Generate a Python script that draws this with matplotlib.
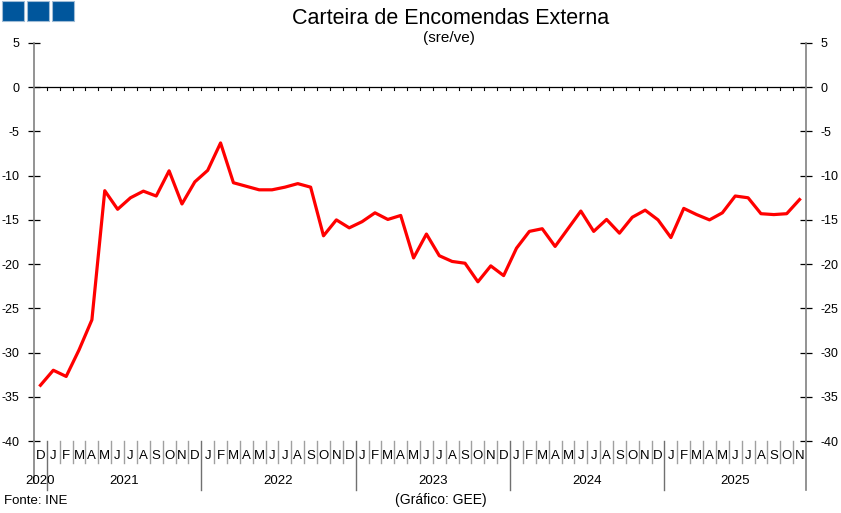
import matplotlib.pyplot as plt
from matplotlib.patches import Rectangle

plt.rcParams['font.family'] = ['Liberation Sans', 'DejaVu Sans']
plt.rcParams['axes.unicode_minus'] = False

# Dec 2020 .. Nov 2025, balance of respondents (sre/ve)
values = [-33.7, -32.0, -32.7, -29.7, -26.3, -11.7, -13.8, -12.5, -11.75, -12.3,
          -9.45, -13.2, -10.7, -9.4, -6.3, -10.8, -11.2, -11.6, -11.6, -11.3,
          -10.9, -11.3, -16.8, -15.0, -15.9, -15.2, -14.2, -14.95, -14.5, -19.3,
          -16.6, -19.05, -19.7, -19.9, -22.0, -20.2, -21.3, -18.2, -16.3, -16.0,
          -18.0, -16.0, -14.0, -16.3, -14.95, -16.5, -14.7, -13.9, -15.0, -17.0,
          -13.7, -14.4, -15.0, -14.2, -12.3, -12.5, -14.3, -14.4, -14.3, -12.7]
month_letters = ['D'] + list('JFMAMJJASOND') * 4 + list('JFMAMJJASON')
years = ['2020', '2021', '2022', '2023', '2024', '2025']
year_first = [0, 1, 13, 25, 37, 49]   # index of the first month of each year
yticks = [5, 0, -5, -10, -15, -20, -25, -30, -35, -40]

fig = plt.figure(figsize=(8.41, 5.13), dpi=100)
ax = fig.add_axes([34 / 841, 1 - 441 / 513, 772 / 841, 398 / 513])

n = len(values)
ax.plot(range(n), values, color='#ff0000', linewidth=2.3, zorder=3)
ax.axhline(0, color='black', linewidth=0.9)
# little month marks hanging from the zero line
for k in range(1, n):
    ax.plot([k - 0.5, k - 0.5], [0, -0.35], color='black', linewidth=0.8)

ax.set_xlim(-0.5, n - 0.5)
ax.set_ylim(-40, 5)
ax.set_xticks([])
ax.set_yticks(yticks)
ax.tick_params(axis='y', direction='inout', length=9, width=0.9, color='black',
               labelsize=9, left=True, right=True, labelleft=True, labelright=True, pad=6)
for s in ['top', 'bottom']:
    ax.spines[s].set_visible(False)
for s in ['left', 'right']:
    ax.spines[s].set_color('#808080')
    ax.spines[s].set_linewidth(1.2)

# month and year row under the plot
tr = ax.get_xaxis_transform()
for i, m in enumerate(month_letters):
    ax.text(i, -0.038, m, transform=tr, ha='center', va='center', fontsize=9.5)
for k in range(1, n):
    long = k in year_first
    ax.plot([k - 0.5, k - 0.5], [0, -0.123 if long else -0.056], transform=tr,
            color='#707070' if long else '#a0a0a0', linewidth=1.0, clip_on=False)
ax.plot([-0.5, -0.5], [0, -0.105], transform=tr, color='#808080', linewidth=1.2, clip_on=False)
ax.plot([n - 0.5, n - 0.5], [0, -0.123], transform=tr, color='#808080', linewidth=1.2, clip_on=False)
bounds = year_first + [n]
for j, y in enumerate(years):
    xc = (bounds[j] + bounds[j + 1] - 1) / 2
    ax.text(xc, -0.1, y, transform=tr, ha='center', va='center', fontsize=9.5)

fig.text(451 / 841, 1 - 18 / 513, 'Carteira de Encomendas Externa', ha='center', va='center', fontsize=15.5)
fig.text(449 / 841, 1 - 38 / 513, '(sre/ve)', ha='center', va='center', fontsize=11)
fig.text(4 / 841, 1 - 501 / 513, 'Fonte: INE', ha='left', va='center', fontsize=9.5)
fig.text(441 / 841, 1 - 500 / 513, '(Gráfico: GEE)', ha='center', va='center', fontsize=10)

# logo squares
for x0 in [2, 27, 52]:
    fig.patches.append(Rectangle((x0 / 841, 1 - 21 / 513), 22 / 841, 20 / 513,
                                 transform=fig.transFigure, facecolor='#00569c',
                                 edgecolor='#9fbcd6', linewidth=0.8))

fig.savefig('out.png', dpi=100)
